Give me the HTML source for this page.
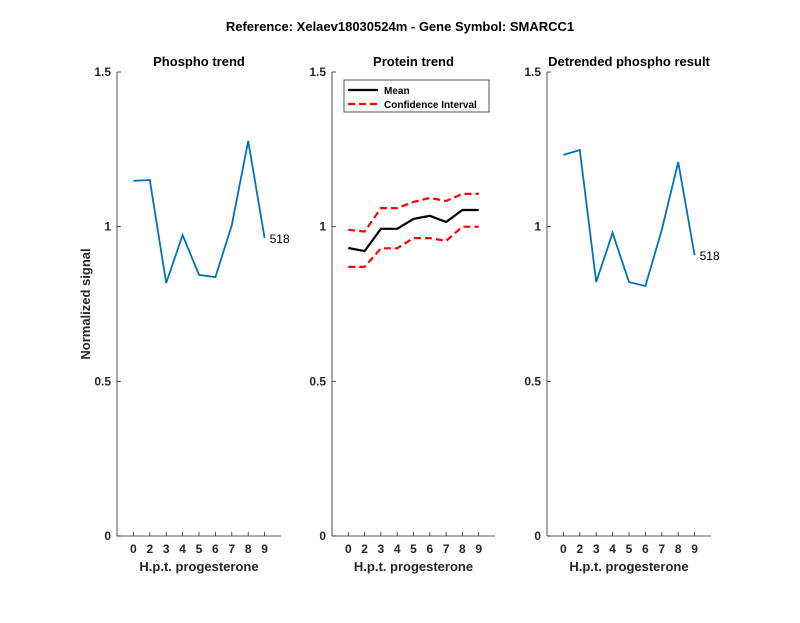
<!DOCTYPE html>
<html><head><style>
body{margin:0;background:#fff;}
svg text{font-family:"Liberation Sans",Arial,sans-serif;}
</style></head><body>
<svg id="c" width="800" height="618" xmlns="http://www.w3.org/2000/svg">
<text x="400" y="31" text-anchor="middle" font-size="13" font-weight="bold" fill="#000">Reference:  Xelaev18030524m - Gene Symbol:  SMARCC1</text>
</svg>
<script>
const categories=["0","2","3","4","5","6","7","8","9"];
const yTicks=[0,0.5,1,1.5];
const phospho=[1.148,1.151,0.818,0.973,0.844,0.837,1.005,1.277,0.963];
const proteinMean=[0.931,0.921,0.993,0.993,1.025,1.035,1.015,1.054,1.054];
const proteinUpper=[0.99,0.984,1.06,1.06,1.08,1.093,1.083,1.106,1.106];
const proteinLower=[0.87,0.87,0.93,0.93,0.963,0.963,0.954,1.0,1.0];
const detrended=[1.232,1.248,0.821,0.98,0.821,0.808,0.99,1.209,0.908];
const seriesLabel="518";

const svg=document.getElementById('c');
const NS="http://www.w3.org/2000/svg";
function mk(tag,attrs,parent){const e=document.createElementNS(NS,tag);for(const k in attrs)e.setAttribute(k,attrs[k]);(parent||svg).appendChild(e);return e;}
const yTop=72,yBot=536,yMax=1.5;
function yS(v){return yBot-(v/yMax)*(yBot-yTop);}
const panels=[{l:117,r:281,title:"Phospho trend",name:"phospho"},{l:332,r:495,title:"Protein trend",name:"protein"},{l:547,r:711,title:"Detrended phospho result",name:"detrended"}];
function xS(p,i){return p.l+(i+1)*(p.r-p.l)/(categories.length+1);}
function line(p,vals,color,dash,w,name){
  const pts=vals.map((v,i)=>xS(p,i).toFixed(1)+","+yS(v).toFixed(1)).join(" ");
  const e=mk('polyline',{points:pts,fill:"none",stroke:color,"stroke-width":w,"stroke-dasharray":dash||"none"});
  
  
}
panels.forEach((p,pi)=>{
  const g=mk('g',{});
  
  
  mk('line',{x1:p.l,y1:yTop,x2:p.l,y2:yBot,stroke:"#262626","stroke-width":0.8},g);
  mk('line',{x1:p.l,y1:yBot,x2:p.r,y2:yBot,stroke:"#262626","stroke-width":0.8},g);
  yTicks.forEach(t=>{
    mk('line',{x1:p.l,y1:yS(t),x2:p.l+4,y2:yS(t),stroke:"#262626","stroke-width":0.8},g);
    const tx=mk('text',{x:p.l-6,y:yS(t)+4,"text-anchor":"end","font-size":"12","font-weight":"bold",fill:"#262626"},g);
    tx.textContent=String(t);
    
    
  });
  categories.forEach((c,i)=>{
    const x=xS(p,i);
    mk('line',{x1:x,y1:yBot,x2:x,y2:yBot-4,stroke:"#262626","stroke-width":0.8},g);
    const tx=mk('text',{x:x,y:553,"text-anchor":"middle","font-size":"12","font-weight":"bold",fill:"#262626"},g);
    tx.textContent=c;
    
    
  });
  const xt=mk('text',{x:(p.l+p.r)/2,y:571,"text-anchor":"middle","font-size":"13","font-weight":"bold",fill:"#262626"},g);
  xt.textContent="H.p.t. progesterone";
  
  
  const tt=mk('text',{x:(p.l+p.r)/2,y:66,"text-anchor":"middle","font-size":"13","font-weight":"bold",fill:"#000"},g);
  tt.textContent=p.title;
  
  
});
const yt=mk('text',{x:0,y:0,"text-anchor":"middle","font-size":"13","font-weight":"bold",fill:"#262626",transform:"translate(90,304) rotate(-90)"});
yt.textContent="Normalized signal";



line(panels[0],phospho,"#0072BD",null,1.8,"phospho-line");
line(panels[1],proteinUpper,"#FF0000","7,4",2.2,"ci-upper-line");
line(panels[1],proteinLower,"#FF0000","7,4",2.2,"ci-lower-line");
line(panels[1],proteinMean,"#000","none",2.2,"mean-line");
line(panels[2],detrended,"#0072BD",null,1.8,"detrended-line");
[[0,phospho],[2,detrended]].forEach(([pi,vals])=>{
  const p=panels[pi];const n=vals.length-1;
  const t=mk('text',{x:xS(p,n)+5,y:yS(vals[n])+5,"font-size":"12",fill:"#000"});
  t.textContent=seriesLabel;
  
  
});
const lg=mk('g',{});


mk('rect',{x:344,y:80,width:145,height:32,fill:"#fff",stroke:"#262626","stroke-width":0.8},lg);
mk('line',{x1:348,y1:90,x2:378,y2:90,stroke:"#000","stroke-width":2.2},lg);
mk('line',{x1:348,y1:104,x2:378,y2:104,stroke:"#FF0000","stroke-width":2.2,"stroke-dasharray":"7,4"},lg);
const l1=mk('text',{x:384,y:94,"font-size":"10","font-weight":"bold",fill:"#000"},lg);l1.textContent="Mean";


const l2=mk('text',{x:384,y:108,"font-size":"10","font-weight":"bold",fill:"#000"},lg);l2.textContent="Confidence Interval";


</script>
</body></html>
